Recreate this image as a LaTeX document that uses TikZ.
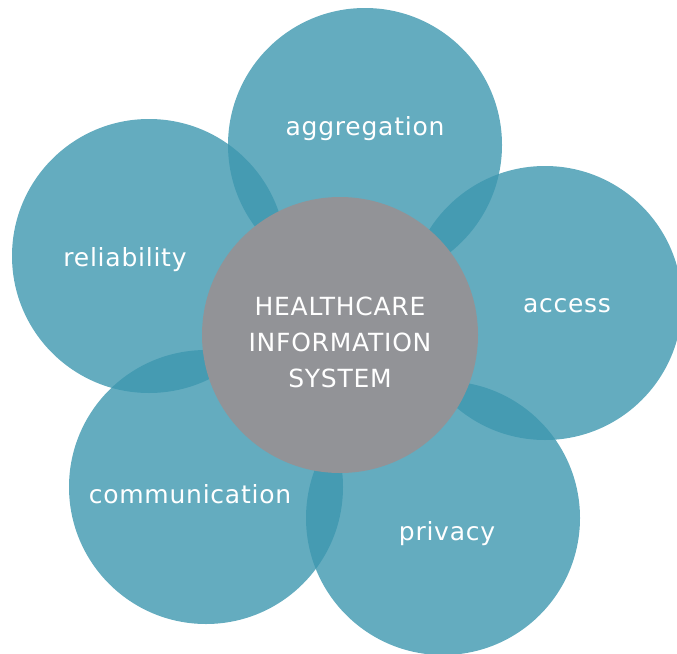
\documentclass[tikz,border=0pt]{standalone}
\usepackage{fontspec}
\setmainfont[LetterSpace=3]{DejaVu Sans}
\definecolor{petal}{RGB}{61,151,175}
\definecolor{hub}{RGB}{146,147,151}
\begin{document}
\begin{tikzpicture}[x=1pt,y=-1pt,
  petalc/.style={circle,fill=petal,fill opacity=0.8,minimum size=274pt,inner sep=0pt},
  hubc/.style={circle,fill=hub,minimum size=276pt,inner sep=0pt},
  lab/.style={text=white,font=\fontsize{25}{36}\selectfont,align=center}]
\useasboundingbox (0,0) rectangle (677,653);
% outer petals
\node[petalc] (agg) at (365,145) {};
\node[petalc] (acc) at (545,303) {};
\node[petalc] (pri) at (443,518) {};
\node[petalc] (com) at (206,487) {};
\node[petalc] (rel) at (149,256) {};
% central hub
\node[hubc] (hub) at (340,335) {};
% labels
\node[lab] (tagg) at (365,129) {aggregation};
\node[lab] (tacc) at (567,306) {access};
\node[lab] (tpri) at (447,534) {privacy};
\node[lab] (tcom) at (190,494) {communication};
\node[lab] (trel) at (125,260) {reliability};
\node[lab] (thub) at (340,342.5) {HEALTHCARE\\INFORMATION\\SYSTEM};
\end{tikzpicture}
\end{document}
